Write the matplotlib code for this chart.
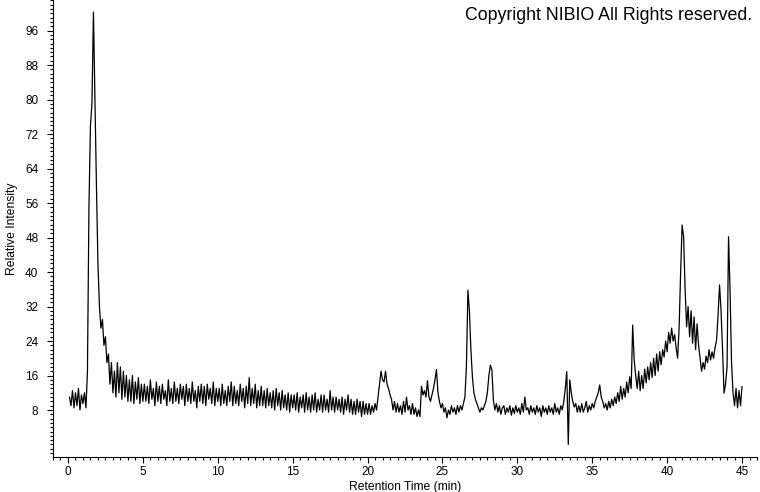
import numpy as np
import matplotlib
matplotlib.use("Agg")
import matplotlib.pyplot as plt
from matplotlib.ticker import MultipleLocator

plt.rcParams['font.family'] = ['Liberation Sans', 'DejaVu Sans']

# retention time grid (min), one reading every 0.1 min
retention_time = np.round(np.arange(1, 451) * 0.1, 1)

# relative intensity, one row per minute (x.1 ... x+1.0)
intensity = [
    11, 9, 12.5, 8.5, 12, 9, 13, 8, 11.5, 9.5,                    # 0
    12, 8.5, 17, 55, 74, 79, 100.3, 80, 60, 42,                   # 1
    32, 27, 29, 23, 25, 19, 21, 14, 19, 12,                       # 2
    17, 11, 19, 12, 18, 10.5, 17, 11, 16, 10,                     # 3
    15, 10, 16, 9.5, 14.5, 10.5, 15.5, 9.5, 14, 10,               # 4
    14, 10, 13.5, 9.5, 15, 10.5, 13, 9, 14.5, 10,                 # 5
    13.5, 9.5, 14, 10.5, 12.5, 9, 15, 10, 13, 9.5,                # 6
    14.5, 10, 13, 9.5, 14, 10.5, 13.5, 9, 14, 10,                 # 7
    13, 9.5, 14.5, 10, 12.5, 8.5, 13.5, 10, 14, 9.5,              # 8
    13.5, 9, 14, 10.5, 13, 9.5, 14.5, 9, 13, 10,                  # 9
    13, 9, 14, 9.5, 12.5, 9, 13.5, 10, 14.5, 9,                   # 10
    13.5, 9.5, 12.5, 9, 14, 10, 13, 8.5, 13.5, 9.5,               # 11
    15.5, 9, 13, 9.5, 14, 8.5, 12.5, 9, 13.5, 9,                  # 12
    12.5, 8.5, 13, 9, 12, 8.5, 12.5, 8, 13, 9,                    # 13
    12, 8, 12.5, 8.5, 11.5, 8, 12, 7.5, 11.5, 8.5,                # 14
    11.5, 8, 12, 7.5, 11, 8.5, 11.5, 7.5, 12, 8,                  # 15
    11, 7.5, 11.5, 8, 12, 7.5, 10.5, 8, 11.5, 7.5,                # 16
    11.5, 8, 10.5, 7.5, 12.5, 8, 11, 7.5, 11, 8,                  # 17
    10.5, 7.5, 11, 7, 10.5, 8, 11.5, 7.5, 10.5, 7,                # 18
    10, 7, 10.5, 7.5, 10, 6.5, 10, 7, 9.5, 7,                     # 19
    9.5, 7, 9, 7.5, 9.5, 8, 11, 14, 17, 15,                       # 20
    14.5, 17, 14, 13, 11.5, 10.5, 8, 10, 7.5, 9.5,                # 21
    7.5, 9, 7, 10, 7.5, 11, 8, 9, 7, 9.5,                         # 22
    7, 8.5, 6.5, 8, 6.5, 13.5, 11.5, 12.5, 11, 14.8,              # 23
    11, 10, 11.5, 13, 15, 17.4, 12, 10, 8.5, 9.5,                 # 24
    7.5, 8.5, 6.2, 8, 7, 9, 7.5, 8.5, 7, 9,                       # 25
    7.5, 9, 8, 9.5, 11, 18, 35.8, 31, 22, 15.7,                   # 26
    12, 10.5, 9.5, 8.5, 7.5, 8.5, 8, 9, 10, 12,                   # 27
    16, 18.4, 17.3, 10.3, 8, 9.5, 7.5, 9, 7, 8.5,                 # 28
    9, 7, 8.5, 7.5, 9, 6.8, 8.5, 7.2, 9, 7.5,                     # 29
    8.5, 7, 9.5, 7.5, 11, 8, 8.5, 7, 9, 7.5,                      # 30
    8.5, 7, 9, 7.5, 8.5, 6.5, 9, 7.5, 8.5, 7,                     # 31
    9, 7.5, 8.5, 7, 9.5, 7.5, 8.5, 7, 9, 8,                       # 32
    10, 13, 16.9, 0, 15, 12, 10, 8.7, 9.5, 7.5,                   # 33
    9, 7.5, 9.5, 7.5, 8.5, 10, 7.5, 9, 8, 9.5,                    # 34
    8.5, 10, 11, 12, 13.8, 11, 10, 8.5, 9.5, 8,                   # 35
    10, 8.5, 10.5, 9, 11, 9.5, 12, 10, 13.5, 10.5,                # 36
    13, 11, 14.5, 12, 15.7, 13, 27.7, 19.6, 16, 13,               # 37
    17, 12.5, 16, 13, 17.5, 14.3, 18, 15, 19, 15.5,               # 38
    20, 16, 21, 17, 21.5, 18.5, 22, 20.3, 24, 21.5,               # 39
    26, 23.5, 27, 24, 25.5, 22.5, 20, 27, 39.8, 50.9,             # 40
    48.2, 36, 27.3, 32, 25, 31, 23.5, 29.6, 22, 28,               # 41
    23, 20, 17, 19, 17.5, 20.5, 19, 22, 19.6, 21.5,               # 42
    20, 22.5, 24.2, 30, 37, 31, 22, 11.9, 14, 18,                 # 43
    48.2, 35.8, 19, 12, 9, 13, 8.5, 12.5, 9, 13.4,                # 44
]

x_ticks = [0, 5, 10, 15, 20, 25, 30, 35, 40, 45]
y_ticks = [8, 16, 24, 32, 40, 48, 56, 64, 72, 80, 88, 96]

fig = plt.figure(figsize=(7.6, 4.92), dpi=100)
ax = fig.add_axes([53 / 760, 35 / 492, 704 / 760, 457 / 492])

ax.plot(retention_time, intensity, color='black', linewidth=0.9)

ax.set_xlim(-1, 46)
ax.set_ylim(-2.9, 103.1)

ax.spines['top'].set_visible(False)
ax.spines['right'].set_visible(False)
ax.spines['left'].set_linewidth(0.8)
ax.spines['bottom'].set_linewidth(0.8)

ax.set_xticks(x_ticks)
ax.set_yticks(y_ticks)
ax.xaxis.set_minor_locator(MultipleLocator(0.5))
ax.yaxis.set_minor_locator(MultipleLocator(1))
ax.tick_params(which='major', direction='out', length=4.5, width=0.8, labelsize=8.5)
ax.tick_params(axis='y', which='major', pad=6)
ax.tick_params(axis='x', which='major', pad=2)
ax.tick_params(which='minor', direction='out', length=2.5, width=0.8)

ax.set_xlabel('Retention Time (min)', fontsize=8.7, labelpad=2)
ax.set_ylabel('Relative Intensity', fontsize=8.7, labelpad=5)

fig.text(0.99, 0.985, 'Copyright NIBIO All Rights reserved.', ha='right', va='top', fontsize=12.8)

fig.savefig('out.png', dpi=100)
